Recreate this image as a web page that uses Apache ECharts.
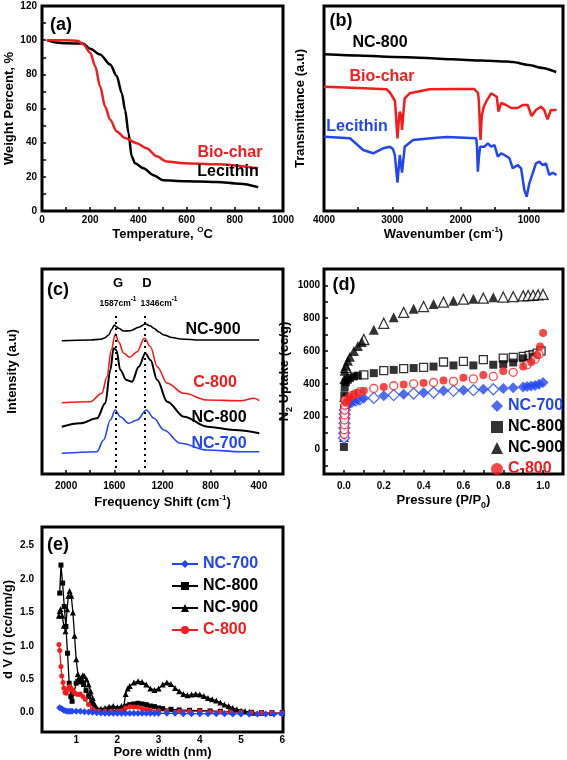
<!DOCTYPE html>
<html><head><meta charset="utf-8">
<script src="https://cdn.jsdelivr.net/npm/echarts@6/dist/echarts.min.js"></script>
<style>html,body{margin:0;padding:0;background:#fff}#c{width:567px;height:760px}</style>
</head><body><div id="c"></div><script>
// ---------------- DATA ----------------
// (a) TGA: [temperature °C, weight %]
const tgaLecithin = [[20,100],[60,98.6],[100,98.2],[170,98],[200,95],[241,91.6],[283,85.7],[310,79],[331,69],[345,59],[359,45.6],[372,32],[386,28],[421,25],[462,21],[503,18],[559,17.6],[650,17.3],[724,17],[821,16],[897,14]];
const tgaBiochar = [[20,100],[100,100],[150,99.5],[172,97.5],[200,92.6],[221,84.7],[241,73],[262,61],[283,53.4],[310,46.6],[345,42.7],[393,39.7],[434,36.8],[476,32],[517,29],[586,28],[724,27.4],[897,25]];
// (b) FTIR: [wavenumber cm-1, transmittance a.u.]
const ftirNC800 = [[4000,156.7],[3500,155.5],[3085,154.3],[2500,153],[2117,151.7],[1700,150.5],[1333,149.5],[1237,149],[1000,146],[800,143],[600,139]];
const ftirBiochar = [[4000,124.3],[3500,123],[3085,121.7],[3040,119],[3012,116],[2960,110],[2924,72.7],[2905,90],[2890,99.3],[2870,95],[2857,81],[2835,100],[2818,112.7],[2745,117.7],[2453,121.7],[2000,122],[1800,122],[1771,121.7],[1745,118],[1733,111],[1708,71],[1690,95],[1660,104.3],[1625,109.3],[1552,117.7],[1470,114.3],[1445,99.3],[1406,108],[1333,106],[1260,103],[1163,103],[1090,106],[1017,106],[960,95],[896,101],[823,104.3],[775,101],[726,91.7],[677,101],[594,101]];
const ftirLecithin = [[4000,74.3],[3620,72.7],[3426,61],[3280,57.7],[3135,62.7],[3036,64.3],[2990,62],[2963,56],[2924,28.3],[2890,56],[2857,38.3],[2818,64.3],[2696,71],[2355,73.3],[2200,74],[1771,72.7],[1760,65],[1747,39.3],[1730,55],[1713,64.3],[1650,64.3],[1601,67.7],[1552,64.3],[1503,66],[1455,54.3],[1406,57.7],[1357,56],[1284,52.7],[1236,42.7],[1163,46],[1114,42.7],[1066,21],[1032,14.3],[993,27.7],[944,37.7],[896,47.7],[847,49.3],[799,46],[750,47.7],[701,36],[653,38.3],[594,36]];
// (c) Raman: [shift cm-1, intensity a.u.]
const ramanNC900 = [[2036,133.3],[1800,134],[1717,134.7],[1680,136],[1647,139],[1620,145],[1600,149],[1580,147],[1564,145.7],[1522,143],[1467,143.3],[1397,146.7],[1342,150],[1300,148],[1272,145.7],[1230,142],[1189,139],[1120,136.5],[1050,135],[883,134],[661,134],[397,134]];
const ramanC800 = [[2036,71.3],[1800,72.3],[1703,80.7],[1661,97.3],[1625,124],[1592,140],[1564,132.3],[1522,120.7],[1472,116.7],[1411,122.3],[1350,135.7],[1300,127.3],[1244,107.3],[1161,90.7],[1022,80.7],[828,74],[550,73.3],[439,75.7],[397,73.3]];
const ramanNC800 = [[2036,47.3],[1883,50.7],[1744,55.7],[1675,70.7],[1633,104],[1606,125.7],[1583,124],[1550,104],[1500,94],[1453,92.3],[1397,107.3],[1342,120.7],[1300,114],[1244,94],[1161,72.3],[1022,57.3],[828,47.3],[606,44],[397,40.7]];
const ramanNC700 = [[2036,20.7],[1744,22.3],[1689,34],[1633,54],[1592,64],[1550,57.3],[1481,50.7],[1411,54],[1333,64],[1272,55.7],[1189,44],[1050,30.7],[828,24],[550,22.3],[397,22.3]];
const ramanPeaks = [1587, 1346];
// (d) N2 isotherms: [P/P0, uptake cc/g]  (filled / open markers)
const n2NC700Filled = [[0.01,260],[0.02,278],[0.03,288],[0.05,297],[0.07,304],[0.1,312],[0.2,327],[0.3,337],[0.4,345],[0.5,357],[0.6,361],[0.7,367],[0.8,371],[0.85,376],[0.9,380],[0.92,383],[0.94,386],[0.96,390],[0.98,398],[1.0,408]];
const n2NC700Open = [[0.001,70],[0.002,100],[0.002,130],[0.003,160],[0.003,190],[0.004,215],[0.005,240],[0.015,270],[0.04,292],[0.06,299],[0.08,306],[0.15,314],[0.25,331],[0.35,341],[0.45,347],[0.55,357],[0.65,361],[0.75,367]];
const n2NC800Filled = [[0,15],[0.001,250],[0.002,330],[0.004,380],[0.01,410],[0.02,425],[0.03,435],[0.05,445],[0.07,450],[0.15,465],[0.25,485],[0.35,496],[0.45,505],[0.55,512],[0.65,512],[0.75,516],[0.8,520],[0.85,530],[0.9,555],[0.95,565]];
const n2NC800Open = [[0.1,455],[0.2,480],[0.3,492],[0.4,500],[0.5,533],[0.6,537],[0.7,547],[0.8,557],[0.85,561],[0.9,567],[0.93,573],[0.95,577],[0.97,587],[0.99,601]];
const n2NC900Filled = [[0,75],[0.001,320],[0.002,430],[0.004,480],[0.01,510],[0.02,540],[0.03,565],[0.05,600],[0.07,630],[0.09,655],[0.15,729],[0.25,806],[0.35,857],[0.45,886],[0.55,906],[0.65,918],[0.75,927]];
const n2NC900Open = [[0.01,500],[0.1,670],[0.2,769],[0.3,835],[0.4,871],[0.5,898],[0.6,916],[0.7,922],[0.8,929],[0.85,931],[0.9,936],[0.925,938],[0.95,940],[0.975,942],[1.0,945]];
const n2C800Filled = [[0.01,285],[0.02,305],[0.03,318],[0.05,333],[0.07,345],[0.1,358],[0.2,380],[0.3,395],[0.4,405],[0.5,420],[0.6,437],[0.7,453],[0.8,478],[0.9,506],[0.94,533],[0.97,575],[0.985,628],[1.0,710]];
const n2C800Open = [[0.002,92],[0.002,120],[0.003,150],[0.003,180],[0.004,210],[0.004,240],[0.005,270],[0.006,300],[0.015,300],[0.04,328],[0.06,340],[0.08,352],[0.15,372],[0.25,388],[0.35,400],[0.45,408],[0.55,415],[0.65,430],[0.75,445],[0.85,470],[0.92,516],[0.96,550],[0.98,580]];
// (e) pore size distribution: [pore width nm, dV(r) cc/nm/g]
const psdNC700 = [[0.6,0.075],[0.65,0.06],[0.7,0.035],[0.75,0.025],[0.8,0.02],[0.85,0.02],[0.9,0.02],[1.0,0.02],[1.1,0.02],[1.2,0.015],[1.3,0.01],[1.4,0.005],[1.5,0],[1.6,-0.005],[1.7,-0.01],[1.8,-0.01],[1.9,-0.01],[2.0,-0.01],[2.1,-0.01],[2.2,-0.01],[2.3,-0.01],[2.4,-0.01],[2.5,-0.01],[2.6,-0.01],[2.7,-0.01],[2.8,-0.01],[2.9,-0.01],[3.0,-0.01],[3.2,-0.01],[3.4,-0.01],[3.6,-0.015],[3.8,-0.015],[4.0,-0.015],[4.2,-0.015],[4.4,-0.015],[4.6,-0.015],[4.8,-0.02],[5.0,-0.02],[5.2,-0.02],[5.4,-0.02],[5.6,-0.02],[5.8,-0.02],[6.0,-0.02]];
const psdNC800 = [[0.6,1.79],[0.63,2.21],[0.67,1.94],[0.71,1.59],[0.75,1.29],[0.79,0.89],[0.83,0.44],[0.87,0.24],[0.9,0.17],[0.94,0.29],[1.0,0.44],[1.04,0.47],[1.08,0.49],[1.13,0.46],[1.18,0.42],[1.24,0.33],[1.3,0.24],[1.37,0.14],[1.45,0.065],[1.57,0.03],[1.7,0.03],[1.85,0.03],[2.0,0.035],[2.1,0.04],[2.2,0.09],[2.25,0.1],[2.3,0.12],[2.4,0.13],[2.5,0.14],[2.6,0.13],[2.7,0.12],[2.8,0.1],[2.9,0.09],[3.0,0.07],[3.1,0.06],[3.3,0.05],[3.5,0.04],[3.75,0.035],[4.0,0.03],[4.25,0.025],[4.5,0.02],[4.75,0.015],[5.0,0.01],[5.25,0.005],[5.5,0],[5.75,0],[6.0,0]];
const psdNC900 = [[0.58,1.45],[0.6,1.52],[0.62,1.55],[0.66,1.45],[0.7,1.3],[0.74,1.22],[0.78,1.55],[0.81,1.75],[0.84,1.82],[0.88,1.75],[0.92,1.5],[0.96,1.15],[1.0,0.8],[1.04,0.58],[1.08,0.48],[1.12,0.52],[1.16,0.56],[1.2,0.55],[1.25,0.5],[1.3,0.42],[1.35,0.32],[1.4,0.22],[1.45,0.12],[1.5,0.07],[1.6,0.06],[1.7,0.07],[1.8,0.09],[1.9,0.1],[2.0,0.08],[2.1,0.1],[2.15,0.06],[2.2,0.28],[2.25,0.36],[2.3,0.4],[2.4,0.45],[2.5,0.47],[2.6,0.46],[2.7,0.42],[2.8,0.36],[2.9,0.34],[3.0,0.36],[3.1,0.42],[3.2,0.45],[3.3,0.43],[3.4,0.37],[3.5,0.32],[3.6,0.28],[3.7,0.26],[3.8,0.27],[3.9,0.28],[4.0,0.27],[4.1,0.25],[4.2,0.22],[4.3,0.2],[4.4,0.18],[4.5,0.15],[4.6,0.12],[4.7,0.1],[4.8,0.07],[4.9,0.05],[5.0,0.03],[5.1,0.02],[5.2,0.01],[5.3,0],[5.5,0],[5.75,0],[6.0,0]];
const psdC800 = [[0.58,1.02],[0.6,0.93],[0.63,0.69],[0.65,0.55],[0.68,0.45],[0.7,0.37],[0.73,0.3],[0.76,0.29],[0.8,0.35],[0.84,0.39],[0.87,0.37],[0.9,0.34],[0.95,0.3],[1.0,0.28],[1.05,0.27],[1.1,0.28],[1.16,0.24],[1.22,0.2],[1.3,0.12],[1.39,0.055],[1.45,0.03],[1.55,0.02],[1.7,0.02],[1.85,0.02],[2.0,0.02],[2.1,0.03],[2.2,0.07],[2.3,0.09],[2.4,0.085],[2.5,0.08],[2.6,0.06],[2.7,0.05],[2.8,0.04],[3.0,0.03],[3.2,0.025],[3.5,0.02],[3.75,0.02],[4.0,0.02],[4.25,0.015],[4.5,0.01],[4.75,0.01],[5.0,0.005],[5.25,0],[5.5,0],[5.75,0],[6.0,0]];
// tick / label values
const aXLabels = [0,200,400,600,800,1000], aXTicks = [100,200,300,400,500,600,700,800,900];
const aYLabels = [0,20,40,60,80,100,120], aYTicks = [10,20,30,40,50,60,70,80,90,100,110];
const bXLabels = [4000,3000,2000,1000], bXTicks = [3500,3000,2500,2000,1500,1000];
const cXLabels = [2000,1600,1200,800,400], cXTicks = [2000,1800,1600,1400,1200,1000,800,600,400];
const dXLabels = [0,0.2,0.4,0.6,0.8,1.0], dXTicks = [0,0.1,0.2,0.3,0.4,0.5,0.6,0.7,0.8,0.9,1.0];
const dYLabels = [0,200,400,600,800,1000], dYTicks = [-100,0,100,200,300,400,500,600,700,800,900,1000];
const eXLabels = [1,2,3,4,5,6], eYLabels = [0,0.5,1.0,1.5,2.0,2.5];
const sampleNames = ['NC-700','NC-800','NC-900','C-800'];

// ---------------- STYLE ----------------
const FONT = 'Liberation Sans, Arial, sans-serif';
const RED = '#f31c1c', BLUE = '#2346f0', BLACK = '#000';
const chart = echarts.init(document.getElementById('c'), null, {renderer:'canvas'});

const grids = [
  {left:42, top:6, width:241, height:205},
  {left:324, top:6, width:239, height:205},
  {left:42, top:269, width:241, height:205},
  {left:324, top:269, width:239, height:205},
  {left:42, top:527, width:241, height:205}
].map(g => Object.assign({show:true, borderColor:'#000', borderWidth:3, backgroundColor:'transparent'}, g));

function tok(size, extra){ return Object.assign({fontFamily:FONT, fontWeight:'bold', fontSize:size, color:'#000', verticalAlign:'bottom'}, extra||{}); }
const richName = {a: tok(13,{padding:[0,0,3,0]}), s: tok(8,{padding:[0,0,10,0]}), b: tok(9)};

const fInt = v => String(Math.round(v));
const f1 = v => Number(v).toFixed(1);
function mkAxis(g, min, max, o){
  return {
    type:'value', gridIndex:g, min:min, max:max, inverse:!!o.inverse,
    axisLine:{show:false, onZero:false},
    axisTick:{show:!!o.ticks, inside:true, length:4, customValues:o.ticks, lineStyle:{color:'#000', width:1.5}},
    axisLabel:{show:!!o.labels, customValues:o.labels, formatter:o.fmt||fInt, color:'#000', fontFamily:FONT, fontWeight:'bold', fontSize:10, margin:o.margin||5},
    splitLine:{show:false},
    name:o.name||'', nameLocation:'middle', nameGap:o.gap||20,
    nameTextStyle:{color:'#000', fontFamily:FONT, fontWeight:'bold', fontSize:13, rich:richName}
  };
}

const xAxes = [
  mkAxis(0, 0, 1000, {labels:aXLabels, ticks:aXTicks, name:'{a|Temperature, }{s|O}{a|C}', gap:14, margin:4}),
  mkAxis(1, 500, 4000, {inverse:true, labels:bXLabels, ticks:bXTicks, name:'{a|Wavenumber (cm}{s|-1}{a|)}', gap:14, margin:4}),
  mkAxis(2, 200, 2200, {inverse:true, labels:cXLabels, ticks:cXTicks, name:'{a|Frequency Shift (cm}{s|-1}{a|)}', gap:20, margin:7}),
  mkAxis(3, -0.1, 1.1, {labels:dXLabels, ticks:dXTicks, fmt:f1, name:'{a|Pressure (P/P}{b|0}{a|)}', gap:20, margin:7}),
  mkAxis(4, 0.17, 6.02, {labels:eXLabels, name:'{a|Pore width (nm)}', gap:12, margin:3})
];
const yAxes = [
  mkAxis(0, 0, 120, {labels:aYLabels, ticks:aYTicks, name:'{a|Weight Percent, %}', gap:22}),
  mkAxis(1, 0, 205, {name:'{a|Transmittance (a.u)}', gap:14}),
  mkAxis(2, 0, 205, {name:'{a|Intensity (a.u)}', gap:20}),
  mkAxis(3, -150, 1100, {labels:dYLabels, ticks:dYTicks, name:'{a|N}{b|2}{a| Uptake (cc/g)}', gap:17, margin:4}),
  mkAxis(4, -0.29, 2.78, {labels:eYLabels, fmt:f1, name:'{a|d V (r) (cc/nm/g)}', gap:24, margin:8})
];

function line(g, name, data, color, width, smooth, extra){
  return Object.assign({type:'line', name:name, xAxisIndex:g, yAxisIndex:g, data:data, showSymbol:false, symbol:'none',
    smooth:smooth, smoothMonotone:'x', lineStyle:{color:color, width:width}, itemStyle:{color:color}, silent:true, animation:false}, extra||{});
}
function scat(name, data, symbol, size, color, open){
  return {type:'scatter', name:name, xAxisIndex:3, yAxisIndex:3, data:data, symbol:symbol, symbolSize:size, animation:false, silent:true,
    itemStyle: open ? {color:'#fff', borderColor:color, borderWidth:1.3} : {color:color}};
}
function psd(name, data, symbol, size, color){
  return {type:'line', name:name, xAxisIndex:4, yAxisIndex:4, data:data, symbol:symbol, symbolSize:size, showSymbol:true,
    lineStyle:{color:color, width:1.3}, itemStyle:{color:color}, animation:false, silent:true};
}

const series = [
  line(0, 'Lecithin TGA', tgaLecithin, BLACK, 2.5, 0.3),
  line(0, 'Bio-char TGA', tgaBiochar, RED, 2.5, 0.3),
  line(1, 'NC-800 FTIR', ftirNC800, BLACK, 2.5, 0.2),
  line(1, 'Bio-char FTIR', ftirBiochar, RED, 2.5, false),
  line(1, 'Lecithin FTIR', ftirLecithin, BLUE, 2.5, false),
  line(2, 'NC-900 Raman', ramanNC900, BLACK, 1.6, 0.35),
  line(2, 'C-800 Raman', ramanC800, RED, 1.6, 0.35),
  line(2, 'NC-800 Raman', ramanNC800, BLACK, 2, 0.35),
  line(2, 'NC-700 Raman', ramanNC700, BLUE, 1.6, 0.35, {
    markLine:{silent:true, symbol:'none', label:{show:false}, animation:false,
      lineStyle:{color:'#000', width:2, type:[2,4]},
      data: ramanPeaks.map(p => [{coord:[p,6]},{coord:[p,161]}])}
  }),
  scat('NC-900 open', n2NC900Open, 'triangle', 10, BLACK, true),
  scat('NC-900', n2NC900Filled, 'triangle', 10, BLACK, false),
  scat('NC-800 open', n2NC800Open, 'rect', 8, BLACK, true),
  scat('NC-800', n2NC800Filled, 'rect', 8, BLACK, false),
  scat('NC-700 open', n2NC700Open, 'diamond', 11, BLUE, true),
  scat('NC-700', n2NC700Filled, 'diamond', 11, BLUE, false),
  scat('C-800 open', n2C800Open, 'circle', 8, RED, true),
  scat('C-800', n2C800Filled, 'circle', 8, RED, false),
  psd('NC-900 ', psdNC900, 'triangle', 6, BLACK),
  psd('NC-800 ', psdNC800, 'rect', 5, BLACK),
  psd('C-800 ', psdC800, 'circle', 5, RED),
  psd('NC-700 ', psdNC700, 'diamond', 7, BLUE)
];

const nameColor = {'NC-700':BLUE, 'NC-800':BLACK, 'NC-900':BLACK, 'C-800':RED};
const legends = [
  {left:486, top:393, orient:'vertical', itemGap:5, itemWidth:12, itemHeight:12, selectedMode:false,
   data: sampleNames.map(n => ({name:n, textStyle:{color:nameColor[n]}})),
   textStyle:{fontFamily:FONT, fontWeight:'bold', fontSize:16}},
  {left:166, top:551, orient:'vertical', itemGap:6, itemWidth:26, itemHeight:10, selectedMode:false,
   data: sampleNames.map(n => ({name:n+' ', textStyle:{color:nameColor[n]}})),
   formatter: n => n.trim(),
   textStyle:{fontFamily:FONT, fontWeight:'bold', fontSize:16}}
];

function txt(t, x, y, size, color, align){
  return {type:'text', x:x, y:y, silent:true, z:100,
    style:{text:t, fill:color||BLACK, font:'bold '+size+'px '+FONT, textAlign:align||'center', textVerticalAlign:'middle'}};
}
function rtxt(t, x, y){
  return {type:'text', x:x, y:y, silent:true, z:100,
    style:{text:t, textAlign:'center', textVerticalAlign:'middle',
      rich:{a:tok(8.5), s:tok(6.5,{padding:[0,0,6,0]})}}};
}
const graphics = [
  txt('(a)', 61, 25, 18), txt('(b)', 341, 21, 18), txt('(c)', 58, 290, 18), txt('(d)', 344, 285, 18), txt('(e)', 58, 545, 18),
  txt('Bio-char', 230, 153, 16, RED), txt('Lecithin', 228, 172, 16, BLACK),
  txt('NC-800', 380, 43, 16, BLACK), txt('Bio-char', 382, 77, 16, RED), txt('Lecithin', 357, 127, 16, BLUE),
  txt('NC-900', 213, 330, 16, BLACK), txt('C-800', 215, 383, 16, RED), txt('NC-800', 219, 418, 16, BLACK), txt('NC-700', 219, 444, 16, BLUE),
  txt('G', 118, 283, 13), txt('D', 147, 283, 13),
  rtxt('{a|1587cm}{s|-1}', 118, 302), rtxt('{a|1346cm}{s|-1}', 159, 302)
];

chart.setOption({
  animation:false,
  backgroundColor:'#fff',
  grid:grids, xAxis:xAxes, yAxis:yAxes, series:series, legend:legends, graphic:graphics
});
</script></body></html>
